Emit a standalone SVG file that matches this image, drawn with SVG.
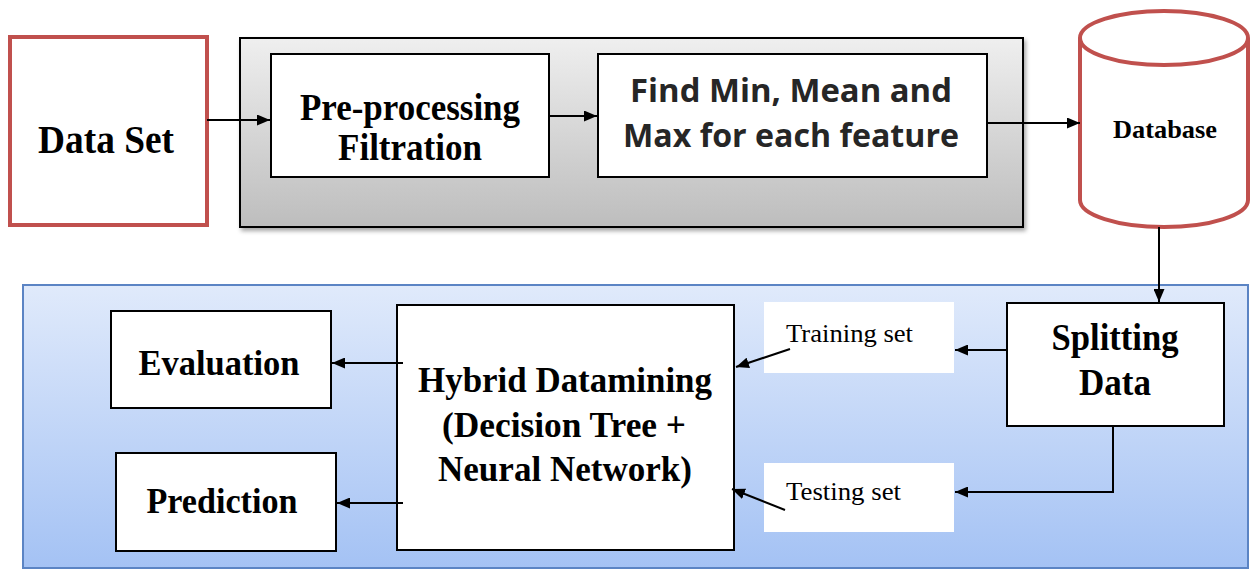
<svg xmlns="http://www.w3.org/2000/svg" width="1250" height="571" viewBox="0 0 1250 571">
  <defs>
    <linearGradient id="grayGrad" x1="0" y1="0" x2="0" y2="1">
      <stop offset="0" stop-color="#efefef"/>
      <stop offset="1" stop-color="#bdbdbd"/>
    </linearGradient>
    <linearGradient id="blueGrad" x1="0" y1="0" x2="0" y2="1">
      <stop offset="0" stop-color="#e0eafb"/>
      <stop offset="1" stop-color="#a4c2f4"/>
    </linearGradient>
    <filter id="shadow" x="-5%" y="-5%" width="110%" height="115%">
      <feDropShadow dx="2" dy="3" stdDeviation="2" flood-color="#000" flood-opacity="0.35"/>
    </filter>
    <marker id="arrow" viewBox="0 0 13 11" refX="13" refY="5.5" markerWidth="13" markerHeight="11" markerUnits="userSpaceOnUse" orient="auto">
      <path d="M0,0 L13,5.5 L0,11 Z" fill="#000"/>
    </marker>
  </defs>
  <style>
    .box { fill: #fff; stroke: #000; stroke-width: 2; }
    .red { fill: #fff; stroke: #c0504d; stroke-width: 4; }
    .serif { font-family: "Liberation Serif", "Times New Roman", serif; font-weight: bold; fill: #000; text-anchor: middle; }
    .sans { font-family: "Open Sans", "Liberation Sans", sans-serif; font-weight: bold; fill: #262626; text-anchor: middle; }
    .lbl { font-family: "Liberation Serif", "Times New Roman", serif; font-size: 26px; fill: #000; }
    .conn { stroke: #000; stroke-width: 2; fill: none; }
  </style>

  <!-- containers -->
  <g id="preprocess-panel">
    <rect x="240" y="38" width="783" height="189" fill="url(#grayGrad)" stroke="#000" stroke-width="2" filter="url(#shadow)"/>
  </g>
  <g id="mining-panel">
    <rect x="23" y="285" width="1225" height="283" fill="url(#blueGrad)" stroke="#5b84c4" stroke-width="2"/>
  </g>

  <!-- nodes -->
  <g id="data-set">
    <rect class="red" x="10" y="37" width="197" height="188"/>
    <text class="serif" x="106" y="153" font-size="39" textLength="136" lengthAdjust="spacingAndGlyphs">Data Set</text>
  </g>
  <g id="pre-processing">
    <rect class="box" x="271" y="54" width="278" height="123"/>
    <text class="serif" x="410" y="120" font-size="38" textLength="220" lengthAdjust="spacingAndGlyphs">Pre-processing</text>
    <text class="serif" x="410" y="160" font-size="38" textLength="144" lengthAdjust="spacingAndGlyphs">Filtration</text>
  </g>
  <g id="find-min-mean-max">
    <rect class="box" x="598" y="54" width="389" height="123"/>
    <text class="sans" x="791" y="102" font-size="32" textLength="322" lengthAdjust="spacingAndGlyphs">Find Min, Mean and</text>
    <text class="sans" x="791" y="147" font-size="32" textLength="336" lengthAdjust="spacingAndGlyphs">Max for each feature</text>
  </g>
  <g id="database">
    <path d="M1080,38 L1080,200 A84,27 0 0 0 1248,200 L1248,38" fill="#fff" stroke="#c0504d" stroke-width="4"/>
    <ellipse cx="1164" cy="38" rx="84" ry="27" fill="#fff" stroke="#c0504d" stroke-width="4"/>
    <text class="serif" x="1165" y="138" font-size="25" textLength="104" lengthAdjust="spacingAndGlyphs">Database</text>
  </g>
  <g id="splitting-data">
    <rect class="box" x="1007" y="303" width="217" height="123"/>
    <text class="serif" x="1115" y="350" font-size="37" textLength="127" lengthAdjust="spacingAndGlyphs">Splitting</text>
    <text class="serif" x="1115" y="395" font-size="37" textLength="72" lengthAdjust="spacingAndGlyphs">Data</text>
  </g>
  <g id="training-set">
    <rect x="764" y="302" width="190" height="71" fill="#fff"/>
    <text class="lbl" x="786" y="342" textLength="127" lengthAdjust="spacingAndGlyphs">Training set</text>
  </g>
  <g id="testing-set">
    <rect x="764" y="463" width="190" height="69" fill="#fff"/>
    <text class="lbl" x="786" y="500" textLength="115" lengthAdjust="spacingAndGlyphs">Testing set</text>
  </g>
  <g id="hybrid">
    <rect class="box" x="397" y="305" width="337" height="245"/>
    <text class="serif" x="565" y="392" font-size="36" textLength="294" lengthAdjust="spacingAndGlyphs">Hybrid Datamining</text>
    <text class="serif" x="564" y="437" font-size="36" textLength="244" lengthAdjust="spacingAndGlyphs">(Decision Tree +</text>
    <text class="serif" x="565" y="481" font-size="36" textLength="254" lengthAdjust="spacingAndGlyphs">Neural Network)</text>
  </g>
  <g id="evaluation">
    <rect class="box" x="111" y="311" width="220" height="97"/>
    <text class="serif" x="219" y="375" font-size="36" textLength="161" lengthAdjust="spacingAndGlyphs">Evaluation</text>
  </g>
  <g id="prediction">
    <rect class="box" x="116" y="453" width="220" height="98"/>
    <text class="serif" x="222" y="513" font-size="36" textLength="151" lengthAdjust="spacingAndGlyphs">Prediction</text>
  </g>

  <!-- connectors -->
  <g id="connectors">
    <line class="conn" x1="207" y1="120" x2="270" y2="120" marker-end="url(#arrow)"/>
    <line class="conn" x1="549" y1="116" x2="597" y2="116" marker-end="url(#arrow)"/>
    <line class="conn" x1="987" y1="123" x2="1080" y2="123" marker-end="url(#arrow)"/>
    <line class="conn" x1="1159" y1="227" x2="1159" y2="302" marker-end="url(#arrow)"/>
    <line class="conn" x1="1007" y1="350" x2="955" y2="350" marker-end="url(#arrow)"/>
    <polyline class="conn" points="1113,426 1113,492 955,492" marker-end="url(#arrow)"/>
    <line class="conn" x1="790" y1="349" x2="736" y2="367" marker-end="url(#arrow)"/>
    <line class="conn" x1="785" y1="510" x2="732" y2="489" marker-end="url(#arrow)"/>
    <line class="conn" x1="403" y1="363" x2="332" y2="363" marker-end="url(#arrow)"/>
    <line class="conn" x1="403" y1="503" x2="337" y2="503" marker-end="url(#arrow)"/>
  </g>
</svg>
